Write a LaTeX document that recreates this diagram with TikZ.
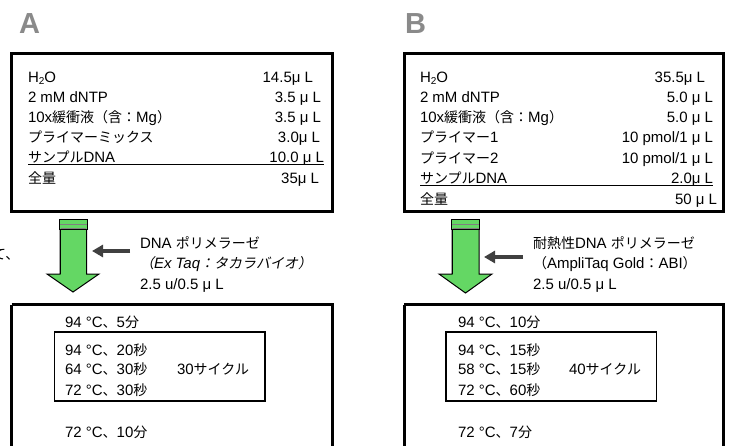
\documentclass[tikz,border=0pt]{standalone}
\usepackage{fontspec}
\setmainfont{Liberation Sans}
\newfontfamily\jpf{Noto Sans CJK JP}
\newfontfamily\jpif[FakeSlant=0.2]{Noto Sans CJK JP}
\newcommand\J[1]{{\jpf\fontsize{14}{14}\selectfont #1}}
\newcommand\JI[1]{{\jpif\fontsize{14}{14}\selectfont #1}}
\newcommand\HtwoO{H\raisebox{-2.5pt}{\fontsize{10}{10}\selectfont 2}O}
\usetikzlibrary{arrows.meta}
\definecolor{arrowgreen}{RGB}{100,215,100}
\definecolor{labelgray}{RGB}{138,138,138}
\definecolor{darkarrow}{RGB}{64,64,64}
\tikzset{
  txt/.style={inner sep=0pt, outer sep=0pt, anchor=base west, font=\fontsize{15}{15}\selectfont},
  rtxt/.style={txt, anchor=base east},
  biglabel/.style={inner sep=0pt, anchor=base west, font=\fontsize{29}{29}\selectfont\bfseries, text=labelgray},
  thickbox/.style={draw=black, line width=3pt},
  thinbox/.style={draw=black, line width=1.4pt},
  greenarrow/.style={fill=arrowgreen, draw=black, line width=1pt},
  harrow/.style={draw=darkarrow, line width=4pt, -{Triangle[length=11pt,width=12pt]}},
}
\begin{document}
\begin{tikzpicture}[x=1pt,y=-1pt]
\useasboundingbox (0,0) rectangle (731,445);
\fill[white] (0,0) rectangle (731,445);

% ---------------- Panel A ----------------
\node[biglabel] (labA) at (19,33) {A};
\draw[thickbox] (11.5,53.5) rectangle (332,211);
\node[txt] (a1) at (28,82) {\HtwoO};
\node[rtxt] (a1v) at (313,82) {14.5μ L};
\node[txt] (a2) at (28,102) {2 mM dNTP};
\node[rtxt] (a2v) at (321,102) {3.5 μ L};
\node[txt] (a3) at (28,122) {10x\J{緩衝液（含：}Mg\J{）}};
\node[rtxt] (a3v) at (321,122) {3.5 μ L};
\node[txt] (a4) at (28,142) {\J{プライマーミックス}};
\node[rtxt] (a4v) at (320,142) {3.0μ L};
\node[txt] (a5) at (28,162) {\J{サンプル}DNA};
\node[rtxt] (a5v) at (324,162) {10.0 μ L};
\draw[line width=0.9pt] (28,164.5) -- (324,164.5);
\node[txt] (a6) at (28,183) {\J{全量}};
\node[rtxt] (a6v) at (319,183) {35μ L};

% cut-off text at the left edge
\node[txt] (cut) at (-8,259) {\J{て、}};

% green arrow A
\draw[greenarrow] (60,229) -- (60,274) -- (47,274) -- (73,292) -- (99,274) -- (86.7,274) -- (86.7,229) -- cycle;
\draw[greenarrow] (59.3,219) rectangle (87.3,229);
\draw[gray, line width=1pt] (59.8,224) -- (86.8,224);
\draw[gray, line width=1pt] (60.5,228.5) -- (86.2,228.5);
\draw[black, line width=1.6pt] (60.3,229) -- (60.3,274);

\coordinate (aTail) at (130,251);
\coordinate (aHead) at (92,251);
\draw[harrow] (aTail) -- (aHead);
\node[txt] (aE1) at (140,248) {DNA \J{ポリメラーゼ}};
\node[txt] (aE2) at (140,268) {\JI{（}\textit{Ex Taq}\JI{：タカラバイオ）}};
\node[txt] (aE3) at (140,289) {2.5 u/0.5 μ L};

\draw[thickbox] (11.5,304.5) -- (11.5,460) (11.5,304.5) -- (332,304.5) -- (332,460);
\node[txt] (aT0) at (65,327) {94 °C\J{、}5\J{分}};
\draw[thinbox] (54.5,332) rectangle (265,401);
\node[txt] (aT1) at (65,355) {94 °C\J{、}20\J{秒}};
\node[txt] (aT2) at (65,374) {64 °C\J{、}30\J{秒}};
\node[txt] (aT3) at (65,395) {72 °C\J{、}30\J{秒}};
\node[txt] (aCy) at (177,374) {30\J{サイクル}};
\node[txt] (aT4) at (65,437) {72 °C\J{、}10\J{分}};

% ---------------- Panel B ----------------
\node[biglabel] (labB) at (405,33) {B};
\draw[thickbox] (404,53.5) rectangle (723,211.5);
\node[txt] (b1) at (420,82) {\HtwoO};
\node[rtxt] (b1v) at (705,82) {35.5μ L};
\node[txt] (b2) at (420,102) {2 mM dNTP};
\node[rtxt] (b2v) at (713,102) {5.0 μ L};
\node[txt] (b3) at (420,122) {10x\J{緩衝液（含：}Mg\J{）}};
\node[rtxt] (b3v) at (713,122) {5.0 μ L};
\node[txt] (b4) at (420,142) {\J{プライマー}1};
\node[rtxt] (b4v) at (713,142) {10 pmol/1 μ L};
\node[txt] (b5) at (420,163) {\J{プライマー}2};
\node[rtxt] (b5v) at (713,163) {10 pmol/1 μ L};
\node[txt] (b6) at (420,183) {\J{サンプル}DNA};
\node[rtxt] (b6v) at (713,183) {2.0μ L};
\draw[line width=0.9pt] (420,185.5) -- (713,185.5);
\node[txt] (b7) at (420,204) {\J{全量}};
\node[rtxt] (b7v) at (717,204) {50 μ L};

% green arrow B
\draw[greenarrow] (452,229) -- (452,274) -- (439,274) -- (465.5,293) -- (492,274) -- (479,274) -- (479,229) -- cycle;
\draw[greenarrow] (451.5,219) rectangle (479.5,229);
\draw[gray, line width=1pt] (452,224) -- (479,224);
\draw[gray, line width=1pt] (452.5,228.5) -- (478.5,228.5);
\draw[black, line width=1.6pt] (452.3,229) -- (452.3,274);

\coordinate (bTail) at (523,257);
\coordinate (bHead) at (484,257);
\draw[harrow] (bTail) -- (bHead);
\node[txt] (bE1) at (533,248) {\J{耐熱性}DNA \J{ポリメラーゼ}};
\node[txt] (bE2) at (533,268) {\J{（}AmpliTaq Gold\J{：}ABI\J{）}};
\node[txt] (bE3) at (533,289) {2.5 u/0.5 μ L};

\draw[thickbox] (404,304.5) -- (404,460) (404,304.5) -- (723,304.5) -- (723,460);
\node[txt] (bT0) at (458,327) {94 °C\J{、}10\J{分}};
\draw[thinbox] (446,332) rectangle (656.7,401);
\node[txt] (bT1) at (458,355) {94 °C\J{、}15\J{秒}};
\node[txt] (bT2) at (458,374) {58 °C\J{、}15\J{秒}};
\node[txt] (bT3) at (458,395) {72 °C\J{、}60\J{秒}};
\node[txt] (bCy) at (569,374) {40\J{サイクル}};
\node[txt] (bT4) at (458,437) {72 °C\J{、}7\J{分}};
\end{tikzpicture}
\end{document}
